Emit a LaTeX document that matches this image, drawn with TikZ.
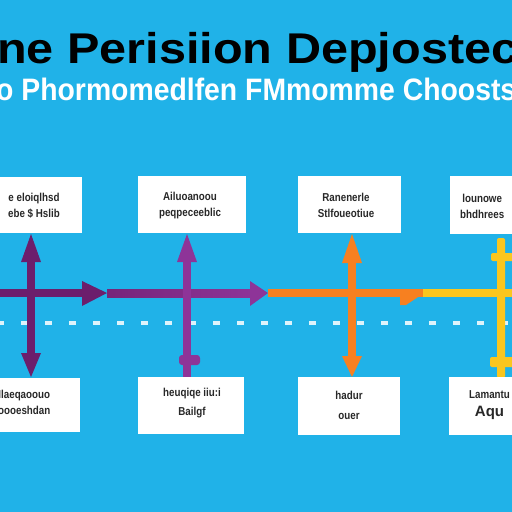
\documentclass[tikz,border=0pt]{standalone}
\usepackage{fontspec}
\setmainfont{Liberation Sans}
\definecolor{bgblue}{RGB}{32,178,232}
\definecolor{dpurple}{RGB}{108,30,108}
\definecolor{mpurple}{RGB}{142,52,152}
\definecolor{orng}{RGB}{247,128,32}
\definecolor{yllw}{RGB}{250,198,30}
\definecolor{txtgray}{RGB}{40,40,40}
\tikzset{
  card/.style={fill=white, draw=none, inner sep=0, anchor=north west},
  cardtxt/.style={text=txtgray, inner sep=0, align=center, font=\fontsize{11.5}{16}\selectfont\bfseries},
}
\newcommand{\sq}[1]{\scalebox{0.85}[1]{#1}}
\begin{document}
\begin{tikzpicture}[x=1pt,y=-1pt]
\useasboundingbox (0,0) rectangle (512,512);
\clip (0,0) rectangle (512,512);
\fill[bgblue] (0,0) rectangle (512,512);

% titles
\node[anchor=base west, inner sep=0, font=\fontsize{43}{43}\selectfont\bfseries] (title) at (-3,63) {\scalebox{1.13}[1]{ne Perisiion Depjostec}};
\node[anchor=base west, inner sep=0, text=white, font=\fontsize{31}{31}\selectfont\bfseries] (subtitle) at (-4,100) {\scalebox{0.915}[1]{o Phormomedlfen FMmomme Choosts}};

% dashed baseline
\draw[white, opacity=0.85, line width=3.5pt, dash pattern=on 7pt off 17pt] (-3,323) -- (515,323);

% horizontal flow
\fill[dpurple] (-5,289) rectangle (84,297);
\fill[dpurple] (82,281) -- (107,293) -- (82,306) -- cycle;
\shade[left color=dpurple!70!mpurple, right color=mpurple] (107,289) rectangle (252,297);
\fill[mpurple] (250,281) -- (268,293) -- (250,306) -- cycle;
\fill[orng] (268,289) rectangle (424,297);
\fill[orng] (400,297) -- (418,297) -- (406,305) -- (400,305) -- cycle;
\fill[yllw] (423,289) rectangle (515,297);

% vertical 1 (dark purple)
\fill[dpurple] (27,258) rectangle (35,360);
\fill[dpurple] (21,262) -- (31,234) -- (41,262) -- cycle;
\fill[dpurple] (21,353) -- (31,377) -- (41,353) -- cycle;
% vertical 2 (purple)
\fill[mpurple] (183,258) rectangle (191,378);
\fill[mpurple] (177,262) -- (187,234) -- (197,262) -- cycle;
\fill[mpurple, rounded corners=3pt] (179,355) rectangle (200,365);
% vertical 3 (orange)
\fill[orng] (348,258) rectangle (356,360);
\fill[orng] (342,263) -- (352,234) -- (362,263) -- cycle;
\fill[orng] (342,356) -- (362,356) -- (352,377) -- cycle;
% vertical 4 (yellow)
\fill[yllw, rounded corners=2pt] (497,238) rectangle (505,378);
\fill[yllw, rounded corners=2pt] (491,253) rectangle (515,261);
\fill[yllw, rounded corners=2pt] (490,357) rectangle (515,367);

% cards top
\node[card, minimum width=87pt, minimum height=56pt] (c1) at (-5,177) {};
\node[card, minimum width=108pt, minimum height=57pt] (c2) at (138,176) {};
\node[card, minimum width=103pt, minimum height=57pt] (c3) at (298,176) {};
\node[card, minimum width=67pt, minimum height=58pt] (c4) at (450,176) {};
% cards bottom
\node[card, minimum width=85pt, minimum height=54pt] (c5) at (-5,378) {};
\node[card, minimum width=106pt, minimum height=57pt] (c6) at (138,377) {};
\node[card, minimum width=102pt, minimum height=58pt] (c7) at (298,377) {};
\node[card, minimum width=68pt, minimum height=58pt] (c8) at (449,377) {};

% card texts
\node[cardtxt] (t1) at (34,206) {\sq{e eloiqlhsd}\\\sq{ebe \$ Hslib}};
\node[cardtxt] (t2) at (190,206) {\sq{Ailuoanoou}\\\sq{peqpeceeblic}};
\node[cardtxt] (t3) at (346,205) {\sq{Ranenerle}\\\sq{Stlfoueotiue}};
\node[cardtxt, anchor=west] (t4) at (460,206) {\sq{lounowe}\\\sq{bhdhrees}};
\node[cardtxt, anchor=west] (t5) at (-2,402) {\sq{Ilaeqaoouo}\\\sq{oooeshdan}};
\node[cardtxt] (t6) at (192,403) {\sq{heuqiqe iiu:i}\\[3pt]\sq{Bailgf}};
\node[cardtxt] (t7) at (349,405) {\sq{hadur}\\[4pt]\sq{ouer}};
\node[cardtxt, anchor=west] (t8) at (469,405) {\sq{Lamantu}\\[2pt]{\fontsize{15}{15}\selectfont Aqu}};
\end{tikzpicture}
\end{document}
